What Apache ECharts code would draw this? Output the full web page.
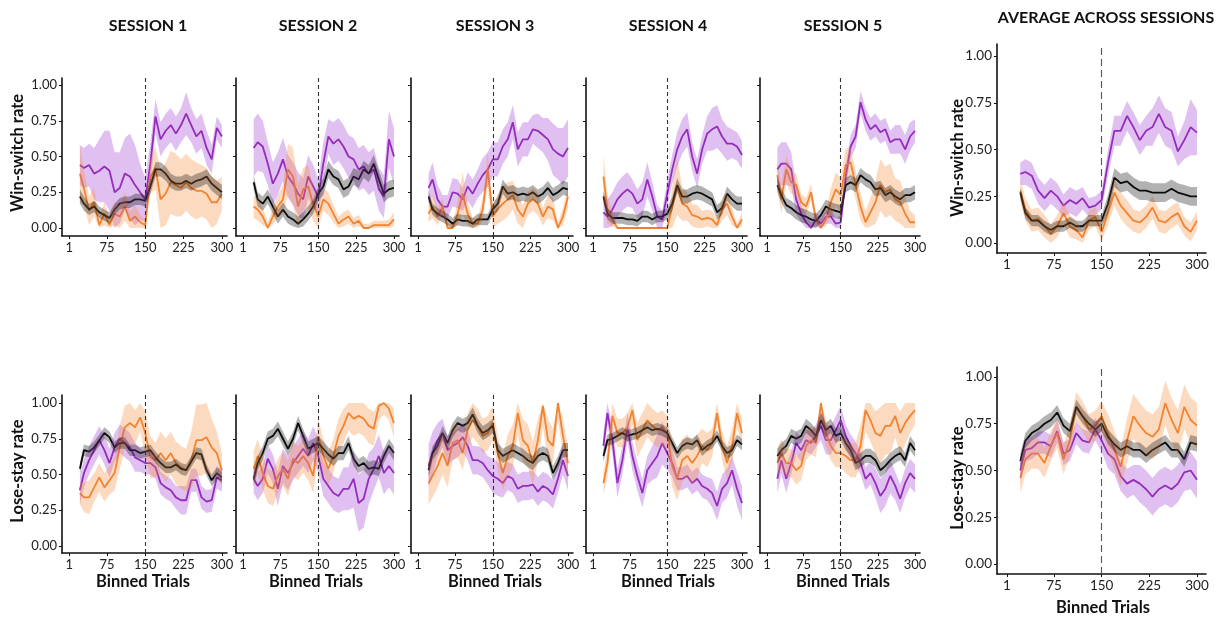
<!DOCTYPE html>
<html>
<head>
<meta charset="utf-8">
<script src="https://cdn.jsdelivr.net/npm/echarts@6/dist/echarts.min.js"></script>
<style>
html,body{margin:0;padding:0;background:#fff;}
#chart{width:1221px;height:619px;}
</style>
</head>
<body>
<div id="chart"></div>
<script>
// Trial positions (moving-window centres) shared by every panel
const TRIALS = [22,30,40,50,60,70,80,90,100,110,120,130,140,150,160,170,180,190,200,210,220,230,240,250,260,270,280,290,300];
const X_TICKS = [1,75,150,225,300];
const Y_TICKS = [0,0.25,0.5,0.75,1];
const SESSION_TITLES = ['SESSION 1','SESSION 2','SESSION 3','SESSION 4','SESSION 5'];
const AVERAGE_TITLE = 'AVERAGE ACROSS SESSIONS';
const WS_LABEL = 'Win-switch rate';
const LS_LABEL = 'Lose-stay rate';
const X_LABEL = 'Binned Trials';
const SWITCH_TRIAL = 150;

// ---- Win-switch rate, session 1 ----
const ws1Purple = [0.44,0.42,0.44,0.38,0.40,0.43,0.40,0.25,0.28,0.38, 0.36,0.30,0.25,0.20,0.45,0.78,0.62,0.68,0.72,0.66, 0.72,0.80,0.72,0.64,0.68,0.56,0.48,0.70,0.64];
const ws1Orange = [0.38,0.28,0.12,0.18,0.02,0.10,0.02,0.10,0.08,0.15, 0.05,0.08,0.04,0.02,0.36,0.42,0.20,0.24,0.32,0.30, 0.28,0.32,0.28,0.26,0.26,0.24,0.18,0.18,0.24];
const ws1Black  = [0.22,0.17,0.13,0.15,0.11,0.09,0.07,0.13,0.17,0.18, 0.18,0.20,0.20,0.19,0.29,0.41,0.41,0.38,0.33,0.31, 0.31,0.33,0.31,0.33,0.34,0.36,0.31,0.28,0.25];
const ws1PurpleSe = [0.14,0.14,0.15,0.18,0.22,0.25,0.28,0.28,0.25,0.25, 0.30,0.28,0.20,0.15,0.15,0.12,0.12,0.12,0.12,0.12, 0.12,0.15,0.12,0.12,0.12,0.12,0.10,0.08,0.08];
const ws1OrangeSe = [0.20,0.12,0.10,0.10,0.06,0.08,0.06,0.08,0.08,0.10, 0.06,0.08,0.05,0.04,0.12,0.15,0.20,0.22,0.22,0.22, 0.20,0.20,0.20,0.20,0.18,0.18,0.18,0.15,0.12];
const ws1BlackSe  = [0.05,0.05,0.04,0.04,0.04,0.04,0.04,0.04,0.04,0.04, 0.04,0.04,0.04,0.04,0.05,0.05,0.05,0.05,0.05,0.05, 0.05,0.05,0.05,0.05,0.05,0.05,0.05,0.05,0.05];

// ---- Win-switch rate, session 2 ----
const ws2Purple = [0.56,0.60,0.57,0.45,0.31,0.38,0.48,0.36,0.31,0.24, 0.20,0.36,0.29,0.22,0.45,0.64,0.59,0.62,0.57,0.50, 0.48,0.41,0.43,0.38,0.41,0.27,0.22,0.62,0.50];
const ws2Orange = [0.15,0.13,0.08,0.00,0.08,0.15,0.20,0.41,0.36,0.15, 0.27,0.29,0.17,0.08,0.20,0.17,0.10,0.03,0.06,0.08, 0.03,0.05,0.00,0.00,0.02,0.02,0.02,0.02,0.06];
const ws2Black  = [0.32,0.20,0.17,0.22,0.15,0.08,0.13,0.08,0.06,0.03, 0.06,0.10,0.15,0.24,0.29,0.41,0.36,0.34,0.27,0.29, 0.36,0.34,0.41,0.38,0.45,0.34,0.24,0.27,0.28];
const ws2PurpleSe = [0.20,0.20,0.18,0.15,0.15,0.15,0.15,0.15,0.15,0.15, 0.15,0.15,0.15,0.12,0.15,0.12,0.15,0.15,0.15,0.15, 0.15,0.15,0.15,0.15,0.15,0.15,0.15,0.20,0.20];
const ws2OrangeSe = [0.08,0.08,0.06,0.04,0.06,0.08,0.10,0.18,0.20,0.15, 0.15,0.15,0.12,0.08,0.08,0.08,0.06,0.05,0.05,0.05, 0.04,0.04,0.03,0.03,0.03,0.03,0.03,0.04,0.05];
const ws2BlackSe  = [0.05,0.05,0.05,0.05,0.05,0.05,0.05,0.05,0.05,0.05, 0.05,0.05,0.05,0.05,0.06,0.06,0.06,0.06,0.06,0.06, 0.06,0.06,0.06,0.06,0.06,0.06,0.06,0.06,0.06];

// ---- Win-switch rate, session 3 ----
const ws3Purple = [0.28,0.34,0.20,0.15,0.15,0.25,0.24,0.20,0.29,0.24, 0.31,0.37,0.41,0.48,0.48,0.57,0.62,0.74,0.55,0.62, 0.62,0.69,0.68,0.65,0.62,0.55,0.52,0.50,0.56];
const ws3Orange = [0.10,0.15,0.08,0.15,0.00,0.00,0.10,0.24,0.10,0.03, 0.03,0.13,0.41,0.08,0.13,0.17,0.20,0.23,0.13,0.08, 0.17,0.20,0.17,0.08,0.15,0.13,0.00,0.08,0.22];
const ws3Black  = [0.22,0.13,0.10,0.08,0.06,0.03,0.06,0.05,0.05,0.03, 0.06,0.06,0.06,0.13,0.17,0.29,0.24,0.25,0.23,0.24, 0.23,0.25,0.22,0.24,0.28,0.23,0.25,0.28,0.27];
const ws3PurpleSe = [0.10,0.12,0.10,0.08,0.08,0.10,0.10,0.08,0.10,0.10, 0.10,0.12,0.12,0.12,0.12,0.12,0.12,0.12,0.12,0.12, 0.12,0.10,0.12,0.12,0.15,0.18,0.18,0.20,0.20];
const ws3OrangeSe = [0.06,0.08,0.06,0.06,0.03,0.03,0.08,0.15,0.08,0.04, 0.04,0.08,0.12,0.08,0.10,0.12,0.12,0.10,0.10,0.08, 0.08,0.08,0.08,0.06,0.08,0.08,0.04,0.06,0.08];
const ws3BlackSe  = [0.04,0.04,0.04,0.04,0.04,0.04,0.04,0.04,0.04,0.04, 0.04,0.04,0.04,0.04,0.05,0.05,0.05,0.05,0.05,0.05, 0.05,0.05,0.05,0.05,0.05,0.05,0.05,0.05,0.05];

// ---- Win-switch rate, session 4 ----
const ws4Purple = [0.11,0.08,0.13,0.20,0.24,0.27,0.24,0.17,0.20,0.34, 0.22,0.08,0.06,0.24,0.41,0.55,0.64,0.69,0.50,0.38, 0.55,0.66,0.69,0.71,0.64,0.59,0.59,0.57,0.51];
const ws4Orange = [0.36,0.13,0.06,0.00,0.00,0.00,0.00,0.00,0.00,0.00, 0.00,0.00,0.00,0.00,0.15,0.29,0.17,0.15,0.09,0.08, 0.06,0.07,0.06,0.02,0.13,0.17,0.08,0.00,0.06];
const ws4Black  = [0.22,0.10,0.07,0.07,0.07,0.06,0.06,0.05,0.08,0.08, 0.06,0.08,0.08,0.10,0.17,0.30,0.22,0.22,0.24,0.25, 0.24,0.22,0.20,0.11,0.14,0.24,0.20,0.17,0.17];
const ws4PurpleSe = [0.12,0.12,0.12,0.12,0.12,0.12,0.10,0.10,0.12,0.12, 0.10,0.08,0.06,0.10,0.10,0.12,0.12,0.12,0.10,0.10, 0.10,0.12,0.15,0.15,0.12,0.12,0.10,0.10,0.10];
const ws4OrangeSe = [0.15,0.10,0.05,0.00,0.00,0.00,0.00,0.00,0.00,0.00, 0.00,0.00,0.00,0.00,0.15,0.20,0.12,0.10,0.08,0.08, 0.06,0.06,0.06,0.04,0.08,0.08,0.06,0.03,0.05];
const ws4BlackSe  = [0.04,0.04,0.04,0.04,0.04,0.04,0.04,0.04,0.04,0.04, 0.04,0.04,0.04,0.04,0.05,0.05,0.05,0.05,0.05,0.05, 0.05,0.05,0.05,0.05,0.05,0.05,0.05,0.05,0.05];

// ---- Win-switch rate, session 5 ----
const ws5Purple = [0.41,0.45,0.45,0.41,0.20,0.10,0.04,0.00,0.06,0.03, 0.08,0.08,0.03,0.04,0.36,0.57,0.64,0.88,0.76,0.69, 0.72,0.67,0.69,0.60,0.62,0.62,0.55,0.64,0.68];
const ws5Orange = [0.37,0.20,0.41,0.32,0.30,0.18,0.15,0.25,0.06,0.00, 0.06,0.18,0.27,0.23,0.44,0.46,0.30,0.15,0.04,0.11, 0.18,0.30,0.25,0.27,0.20,0.18,0.10,0.04,0.04];
const ws5Black  = [0.30,0.23,0.16,0.14,0.11,0.09,0.08,0.06,0.05,0.09, 0.15,0.13,0.12,0.11,0.30,0.32,0.30,0.37,0.34,0.32, 0.27,0.28,0.23,0.25,0.22,0.20,0.23,0.23,0.25];
const ws5PurpleSe = [0.15,0.15,0.15,0.12,0.10,0.06,0.05,0.04,0.05,0.04, 0.05,0.05,0.04,0.05,0.08,0.08,0.08,0.08,0.08,0.08, 0.08,0.08,0.08,0.08,0.10,0.10,0.10,0.10,0.08];
const ws5OrangeSe = [0.10,0.10,0.10,0.08,0.08,0.06,0.06,0.06,0.04,0.03, 0.05,0.10,0.12,0.12,0.12,0.10,0.10,0.10,0.08,0.10, 0.15,0.18,0.18,0.18,0.15,0.15,0.12,0.08,0.05];
const ws5BlackSe  = [0.05,0.05,0.05,0.05,0.05,0.05,0.05,0.05,0.05,0.05, 0.05,0.05,0.05,0.05,0.05,0.05,0.05,0.05,0.05,0.05, 0.05,0.05,0.05,0.05,0.05,0.05,0.05,0.05,0.05];

// ---- Win-switch rate, average across sessions ----
const wsAvgPurple = [0.37,0.38,0.36,0.28,0.24,0.28,0.25,0.20,0.23,0.21, 0.24,0.19,0.20,0.23,0.43,0.60,0.60,0.68,0.62,0.55, 0.60,0.62,0.69,0.62,0.60,0.49,0.55,0.62,0.59];
const wsAvgOrange = [0.28,0.18,0.12,0.13,0.09,0.05,0.09,0.16,0.09,0.07, 0.03,0.12,0.14,0.06,0.16,0.27,0.20,0.16,0.12,0.11, 0.14,0.19,0.12,0.11,0.14,0.16,0.09,0.06,0.12];
const wsAvgBlack  = [0.27,0.16,0.12,0.12,0.09,0.07,0.09,0.09,0.11,0.09, 0.09,0.12,0.12,0.12,0.21,0.35,0.32,0.33,0.30,0.28, 0.28,0.27,0.27,0.27,0.29,0.27,0.26,0.25,0.25];
const wsAvgPurpleSe = [0.06,0.07,0.07,0.07,0.07,0.07,0.07,0.06,0.07,0.07, 0.06,0.05,0.05,0.05,0.07,0.08,0.08,0.08,0.08,0.08, 0.08,0.10,0.10,0.10,0.10,0.08,0.10,0.15,0.12];
const wsAvgOrangeSe = [0.06,0.06,0.06,0.06,0.06,0.05,0.06,0.06,0.06,0.05, 0.04,0.05,0.05,0.05,0.06,0.07,0.07,0.07,0.06,0.06, 0.06,0.06,0.06,0.06,0.06,0.06,0.05,0.05,0.05];
const wsAvgBlackSe  = [0.03,0.03,0.03,0.03,0.03,0.03,0.03,0.03,0.03,0.03, 0.03,0.03,0.03,0.03,0.05,0.05,0.05,0.05,0.05,0.05, 0.05,0.05,0.05,0.05,0.05,0.05,0.05,0.05,0.05];

// ---- Lose-stay rate, session 1 ----
const ls1Purple = [0.39,0.51,0.60,0.67,0.74,0.67,0.58,0.69,0.75,0.72, 0.69,0.62,0.60,0.58,0.58,0.55,0.44,0.41,0.39,0.34, 0.32,0.32,0.46,0.46,0.34,0.31,0.32,0.48,0.46];
const ls1Orange = [0.37,0.34,0.34,0.41,0.48,0.41,0.46,0.51,0.69,0.83, 0.86,0.83,0.90,0.79,0.62,0.60,0.65,0.60,0.65,0.58, 0.55,0.53,0.60,0.74,0.74,0.76,0.69,0.65,0.53];
const ls1Black  = [0.54,0.67,0.66,0.69,0.74,0.79,0.76,0.69,0.72,0.72, 0.67,0.67,0.65,0.66,0.67,0.62,0.58,0.55,0.55,0.57, 0.54,0.53,0.59,0.65,0.64,0.53,0.46,0.51,0.48];
const ls1PurpleSe = [0.10,0.10,0.10,0.10,0.10,0.10,0.10,0.10,0.10,0.10, 0.10,0.10,0.08,0.08,0.08,0.08,0.08,0.08,0.08,0.08, 0.10,0.10,0.08,0.08,0.08,0.08,0.08,0.08,0.08];
const ls1OrangeSe = [0.08,0.10,0.12,0.10,0.10,0.10,0.10,0.12,0.15,0.15, 0.15,0.12,0.10,0.15,0.15,0.12,0.15,0.15,0.15,0.15, 0.15,0.15,0.20,0.25,0.25,0.25,0.20,0.15,0.12];
const ls1BlackSe  = [0.04,0.04,0.04,0.04,0.04,0.04,0.04,0.04,0.04,0.04, 0.04,0.04,0.04,0.04,0.04,0.04,0.04,0.04,0.04,0.04, 0.04,0.04,0.04,0.04,0.04,0.04,0.04,0.04,0.04];

// ---- Lose-stay rate, session 2 ----
const ls2Purple = [0.47,0.42,0.47,0.61,0.54,0.40,0.56,0.51,0.58,0.63, 0.68,0.63,0.72,0.63,0.47,0.42,0.37,0.35,0.40,0.40, 0.47,0.30,0.33,0.47,0.54,0.63,0.51,0.56,0.51];
const ls2Orange = [0.54,0.63,0.51,0.42,0.40,0.49,0.54,0.47,0.61,0.58, 0.63,0.58,0.49,0.77,0.63,0.54,0.63,0.77,0.84,0.93, 0.89,0.91,0.89,0.84,0.82,0.98,1.00,0.96,0.86];
const ls2Black  = [0.47,0.58,0.65,0.75,0.77,0.82,0.75,0.68,0.75,0.86, 0.77,0.68,0.70,0.72,0.68,0.64,0.61,0.65,0.65,0.72, 0.61,0.56,0.58,0.54,0.55,0.54,0.63,0.70,0.65];
const ls2PurpleSe = [0.10,0.10,0.10,0.10,0.10,0.12,0.12,0.12,0.12,0.12, 0.12,0.12,0.12,0.12,0.12,0.12,0.12,0.12,0.15,0.15, 0.20,0.20,0.20,0.18,0.15,0.15,0.15,0.15,0.15];
const ls2OrangeSe = [0.12,0.12,0.12,0.12,0.12,0.12,0.12,0.12,0.12,0.12, 0.12,0.12,0.12,0.12,0.12,0.12,0.12,0.12,0.12,0.12, 0.12,0.12,0.12,0.12,0.12,0.10,0.08,0.08,0.10];
const ls2BlackSe  = [0.05,0.05,0.05,0.05,0.05,0.05,0.05,0.05,0.05,0.05, 0.05,0.05,0.05,0.05,0.05,0.05,0.05,0.05,0.05,0.05, 0.05,0.05,0.05,0.05,0.05,0.05,0.05,0.05,0.05];

// ---- Lose-stay rate, session 3 ----
const ls3Purple = [0.56,0.65,0.74,0.79,0.67,0.70,0.72,0.76,0.70,0.60, 0.60,0.58,0.53,0.49,0.47,0.44,0.49,0.47,0.40,0.42, 0.42,0.43,0.38,0.42,0.40,0.36,0.47,0.60,0.49];
const ls3Orange = [0.44,0.49,0.56,0.65,0.56,0.72,0.74,0.65,0.81,0.88, 0.84,0.77,0.79,0.86,0.65,0.51,0.63,0.70,0.93,0.74, 0.70,0.58,0.74,0.98,0.74,0.70,1.00,0.77,0.58];
const ls3Black  = [0.53,0.65,0.70,0.79,0.72,0.81,0.86,0.84,0.86,0.92, 0.84,0.79,0.81,0.84,0.67,0.63,0.65,0.67,0.65,0.63, 0.60,0.58,0.63,0.65,0.63,0.51,0.58,0.67,0.67];
const ls3PurpleSe = [0.15,0.15,0.12,0.10,0.10,0.10,0.10,0.10,0.10,0.10, 0.10,0.10,0.10,0.12,0.12,0.10,0.10,0.10,0.10,0.10, 0.10,0.10,0.10,0.10,0.10,0.10,0.10,0.10,0.10];
const ls3OrangeSe = [0.15,0.15,0.15,0.15,0.15,0.12,0.12,0.12,0.12,0.12, 0.12,0.12,0.12,0.12,0.12,0.12,0.15,0.15,0.15,0.15, 0.15,0.15,0.15,0.15,0.15,0.12,0.12,0.12,0.12];
const ls3BlackSe  = [0.05,0.05,0.05,0.05,0.05,0.05,0.05,0.05,0.05,0.05, 0.05,0.05,0.05,0.05,0.05,0.05,0.05,0.05,0.05,0.05, 0.05,0.05,0.05,0.05,0.05,0.05,0.05,0.05,0.05];

// ---- Lose-stay rate, session 4 ----
const ls4Purple = [0.70,0.93,0.74,0.44,0.60,0.83,0.63,0.49,0.37,0.53, 0.58,0.63,0.72,0.65,0.58,0.47,0.47,0.49,0.44,0.47, 0.42,0.40,0.37,0.28,0.40,0.44,0.53,0.40,0.30];
const ls4Orange = [0.44,0.58,0.91,0.79,0.79,0.83,0.95,0.74,0.81,0.88, 0.84,0.81,0.83,0.79,0.56,0.47,0.60,0.63,0.58,0.63, 0.70,0.67,0.72,0.93,0.70,0.58,0.70,0.93,0.79];
const ls4Black  = [0.63,0.74,0.75,0.77,0.79,0.77,0.78,0.79,0.81,0.83, 0.81,0.82,0.81,0.79,0.72,0.65,0.70,0.72,0.71,0.74, 0.67,0.70,0.72,0.77,0.70,0.65,0.67,0.74,0.71];
const ls4PurpleSe = [0.10,0.08,0.10,0.10,0.10,0.10,0.10,0.10,0.10,0.10, 0.12,0.15,0.15,0.12,0.10,0.08,0.08,0.08,0.08,0.08, 0.08,0.08,0.10,0.10,0.10,0.10,0.10,0.12,0.12];
const ls4OrangeSe = [0.08,0.10,0.10,0.10,0.10,0.10,0.10,0.12,0.12,0.12, 0.12,0.12,0.12,0.12,0.15,0.15,0.15,0.15,0.15,0.15, 0.12,0.12,0.10,0.08,0.10,0.12,0.12,0.10,0.10];
const ls4BlackSe  = [0.04,0.04,0.04,0.04,0.04,0.04,0.04,0.04,0.04,0.04, 0.04,0.04,0.04,0.04,0.04,0.04,0.04,0.04,0.04,0.04, 0.04,0.04,0.04,0.04,0.04,0.04,0.04,0.04,0.04];

// ---- Lose-stay rate, session 5 ----
const ls5Purple = [0.47,0.60,0.47,0.58,0.72,0.67,0.74,0.72,0.77,0.84, 0.74,0.74,0.81,0.88,0.77,0.70,0.65,0.58,0.47,0.51, 0.44,0.35,0.40,0.49,0.42,0.33,0.44,0.51,0.47];
const ls5Orange = [0.58,0.65,0.58,0.58,0.53,0.56,0.70,0.74,0.72,1.00, 0.79,0.70,0.65,0.65,0.63,0.60,0.60,0.70,0.95,0.88, 0.79,0.77,0.84,0.84,0.91,0.79,0.86,0.91,0.95];
const ls5Black  = [0.63,0.67,0.70,0.77,0.75,0.77,0.84,0.81,0.77,0.88, 0.81,0.84,0.77,0.79,0.72,0.67,0.58,0.60,0.63,0.63, 0.60,0.53,0.56,0.60,0.63,0.65,0.60,0.72,0.67];
const ls5PurpleSe = [0.10,0.10,0.10,0.08,0.08,0.08,0.08,0.08,0.08,0.10, 0.10,0.10,0.10,0.10,0.08,0.08,0.08,0.08,0.08,0.08, 0.10,0.12,0.12,0.12,0.10,0.10,0.10,0.10,0.10];
const ls5OrangeSe = [0.10,0.10,0.10,0.10,0.10,0.10,0.10,0.10,0.10,0.10, 0.10,0.10,0.10,0.10,0.12,0.12,0.12,0.15,0.15,0.15, 0.15,0.20,0.20,0.20,0.15,0.15,0.15,0.12,0.10];
const ls5BlackSe  = [0.05,0.05,0.05,0.05,0.05,0.05,0.05,0.05,0.05,0.05, 0.05,0.05,0.05,0.05,0.05,0.05,0.05,0.05,0.05,0.05, 0.05,0.05,0.05,0.05,0.05,0.05,0.05,0.05,0.05];

// ---- Lose-stay rate, average across sessions ----
const lsAvgPurple = [0.50,0.61,0.62,0.65,0.65,0.63,0.71,0.59,0.61,0.70, 0.66,0.65,0.72,0.66,0.59,0.56,0.47,0.43,0.45,0.43, 0.40,0.36,0.40,0.42,0.40,0.43,0.49,0.50,0.45];
const lsAvgOrange = [0.46,0.56,0.59,0.59,0.54,0.63,0.70,0.56,0.66,0.84, 0.79,0.72,0.74,0.79,0.70,0.61,0.52,0.66,0.79,0.74, 0.70,0.68,0.72,0.86,0.77,0.70,0.84,0.77,0.74];
const lsAvgBlack  = [0.55,0.66,0.70,0.72,0.75,0.77,0.81,0.74,0.71,0.84, 0.79,0.75,0.72,0.75,0.68,0.64,0.61,0.63,0.61,0.61, 0.58,0.61,0.63,0.65,0.61,0.61,0.56,0.65,0.64];
const lsAvgPurpleSe = [0.06,0.06,0.06,0.06,0.06,0.06,0.06,0.06,0.06,0.06, 0.06,0.06,0.06,0.06,0.08,0.08,0.08,0.08,0.08,0.10, 0.10,0.10,0.10,0.10,0.10,0.10,0.10,0.10,0.10];
const lsAvgOrangeSe = [0.08,0.08,0.08,0.08,0.08,0.08,0.08,0.08,0.08,0.08, 0.08,0.08,0.08,0.08,0.10,0.10,0.10,0.12,0.12,0.12, 0.12,0.12,0.12,0.12,0.12,0.12,0.12,0.12,0.12];
const lsAvgBlackSe  = [0.04,0.04,0.04,0.04,0.04,0.04,0.04,0.04,0.04,0.04, 0.04,0.04,0.04,0.04,0.04,0.04,0.04,0.04,0.04,0.04, 0.04,0.04,0.04,0.04,0.04,0.04,0.04,0.04,0.04];

// ---------------------------------------------------------------
const FONT = 'Lato, "Open Sans", sans-serif';
const LINE_COLORS = ['#8c1fb0', '#f07f2b', '#111111'];
const FILL_COLORS = ['rgba(165,70,210,0.34)', 'rgba(247,140,60,0.32)', 'rgba(0,0,0,0.30)'];

const SESSION_BOXES = [
  {left: 62,  width: 165},
  {left: 236, width: 163},
  {left: 411, width: 162},
  {left: 586, width: 161},
  {left: 760, width: 160}
];
const TOP_ROW = {top: 78, height: 158, yMin: -0.056, yMax: 1.049};
const BOTTOM_ROW = {top: 395, height: 158, yMin: -0.049, yMax: 1.056};

const wsSets = [
  [ws1Purple, ws1Orange, ws1Black, ws1PurpleSe, ws1OrangeSe, ws1BlackSe],
  [ws2Purple, ws2Orange, ws2Black, ws2PurpleSe, ws2OrangeSe, ws2BlackSe],
  [ws3Purple, ws3Orange, ws3Black, ws3PurpleSe, ws3OrangeSe, ws3BlackSe],
  [ws4Purple, ws4Orange, ws4Black, ws4PurpleSe, ws4OrangeSe, ws4BlackSe],
  [ws5Purple, ws5Orange, ws5Black, ws5PurpleSe, ws5OrangeSe, ws5BlackSe]
];
const lsSets = [
  [ls1Purple, ls1Orange, ls1Black, ls1PurpleSe, ls1OrangeSe, ls1BlackSe],
  [ls2Purple, ls2Orange, ls2Black, ls2PurpleSe, ls2OrangeSe, ls2BlackSe],
  [ls3Purple, ls3Orange, ls3Black, ls3PurpleSe, ls3OrangeSe, ls3BlackSe],
  [ls4Purple, ls4Orange, ls4Black, ls4PurpleSe, ls4OrangeSe, ls4BlackSe],
  [ls5Purple, ls5Orange, ls5Black, ls5PurpleSe, ls5OrangeSe, ls5BlackSe]
];

const panels = [];
SESSION_BOXES.forEach((b, i) => {
  panels.push({left: b.left, width: b.width, top: TOP_ROW.top, height: TOP_ROW.height,
    xMin: -13, xMax: 310, yMin: TOP_ROW.yMin, yMax: TOP_ROW.yMax,
    sets: wsSets[i], yLabels: i === 0, dash: [4, 3], dashColor: '#333', fontSize: 13});
});
SESSION_BOXES.forEach((b, i) => {
  panels.push({left: b.left, width: b.width, top: BOTTOM_ROW.top, height: BOTTOM_ROW.height,
    xMin: -13, xMax: 310, yMin: BOTTOM_ROW.yMin, yMax: BOTTOM_ROW.yMax,
    sets: lsSets[i], yLabels: i === 0, dash: [4, 3], dashColor: '#333', fontSize: 13});
});
panels.push({left: 997, width: 209, top: 44, height: 209,
  xMin: -14.7, xMax: 314.2, yMin: -0.053, yMax: 1.064,
  sets: [wsAvgPurple, wsAvgOrange, wsAvgBlack, wsAvgPurpleSe, wsAvgOrangeSe, wsAvgBlackSe],
  yLabels: true, dash: [7, 4], dashColor: '#555', fontSize: 13.5});
panels.push({left: 997, width: 209, top: 367, height: 207,
  xMin: -14.7, xMax: 314.2, yMin: -0.053, yMax: 1.053,
  sets: [lsAvgPurple, lsAvgOrange, lsAvgBlack, lsAvgPurpleSe, lsAvgOrangeSe, lsAvgBlackSe],
  yLabels: true, dash: [7, 4], dashColor: '#555', fontSize: 13.5});

const grids = [], xAxes = [], yAxes = [], series = [];

panels.forEach((p, i) => {
  grids.push({left: p.left, top: p.top, width: p.width, height: p.height});
  xAxes.push({
    type: 'value', gridIndex: i, min: p.xMin, max: p.xMax,
    axisLine: {show: true, onZero: false, lineStyle: {color: '#111', width: 1.6}},
    axisTick: {show: true, customValues: X_TICKS, length: 3, lineStyle: {color: '#111'}},
    axisLabel: {customValues: X_TICKS, fontSize: p.fontSize, color: '#222', margin: 5, fontFamily: FONT},
    splitLine: {show: false}
  });
  yAxes.push({
    type: 'value', gridIndex: i, min: p.yMin, max: p.yMax,
    axisLine: {show: true, onZero: false, lineStyle: {color: '#111', width: 1.6}},
    axisTick: {show: true, customValues: Y_TICKS, length: 3, lineStyle: {color: '#111'}},
    axisLabel: {show: p.yLabels, customValues: Y_TICKS, formatter: v => v.toFixed(2),
      fontSize: p.fontSize, color: '#222', margin: 5, fontFamily: FONT},
    splitLine: {show: false}
  });

  // mean lines
  for (let g = 0; g < 3; g++) {
    const vals = p.sets[g];
    const s = {
      type: 'line', xAxisIndex: i, yAxisIndex: i, silent: true,
      data: TRIALS.map((x, k) => [x, vals[k]]),
      symbol: 'none', lineStyle: {color: LINE_COLORS[g], width: 1.8}, z: 2
    };
    if (g === 0) {
      s.markLine = {
        silent: true, symbol: ['none', 'none'], label: {show: false},
        lineStyle: {type: p.dash, color: p.dashColor, width: 1.1},
        data: [{xAxis: SWITCH_TRIAL}]
      };
    }
    series.push(s);
  }
  // error ribbons drawn over the lines
  for (let g = 0; g < 3; g++) {
    const vals = p.sets[g], se = p.sets[g + 3];
    const rows = TRIALS.map((x, k) => [x, Math.max(0, vals[k] - se[k]), Math.min(1, vals[k] + se[k])]);
    const fill = FILL_COLORS[g];
    series.push({
      type: 'custom', xAxisIndex: i, yAxisIndex: i, silent: true, z: 3,
      data: rows, encode: {x: 0, y: [1, 2]},
      renderItem: (params, api) => {
        if (params.dataIndex !== 0) return null;
        const upper = rows.map(r => api.coord([r[0], r[2]]));
        const lower = rows.map(r => api.coord([r[0], r[1]])).reverse();
        return {type: 'polygon', shape: {points: upper.concat(lower)}, style: {fill: fill}, silent: true};
      }
    });
  }
});

// titles and axis names
const bold = (size) => ({fontFamily: FONT, fontWeight: 'bold', fontSize: size, fill: '#111', align: 'center', verticalAlign: 'middle'});
const graphics = [];
const titleX = [148, 318, 495, 668, 843];
SESSION_TITLES.forEach((t, i) => graphics.push({type: 'text', x: titleX[i], y: 26, style: Object.assign({text: t}, bold(16))}));
graphics.push({type: 'text', x: 1106, y: 18, style: Object.assign({text: AVERAGE_TITLE}, bold(16))});
const xNameX = [143, 316, 495, 668, 843];
xNameX.forEach(x => graphics.push({type: 'text', x: x, y: 582, style: Object.assign({text: X_LABEL}, bold(16.5))}));
graphics.push({type: 'text', x: 1103, y: 608, style: Object.assign({text: X_LABEL}, bold(16.5))});
graphics.push({type: 'text', x: 18, y: 153, rotation: Math.PI / 2, style: Object.assign({text: WS_LABEL}, bold(16.5))});
graphics.push({type: 'text', x: 958, y: 158, rotation: Math.PI / 2, style: Object.assign({text: WS_LABEL}, bold(16.5))});
graphics.push({type: 'text', x: 18, y: 471, rotation: Math.PI / 2, style: Object.assign({text: LS_LABEL}, bold(16.5))});
graphics.push({type: 'text', x: 958, y: 478, rotation: Math.PI / 2, style: Object.assign({text: LS_LABEL}, bold(16.5))});

const chart = echarts.init(document.getElementById('chart'), null, {renderer: 'canvas'});
chart.setOption({
  animation: false,
  backgroundColor: '#fff',
  textStyle: {fontFamily: FONT},
  grid: grids,
  xAxis: xAxes,
  yAxis: yAxes,
  series: series,
  graphic: graphics
});
</script>
</body>
</html>
